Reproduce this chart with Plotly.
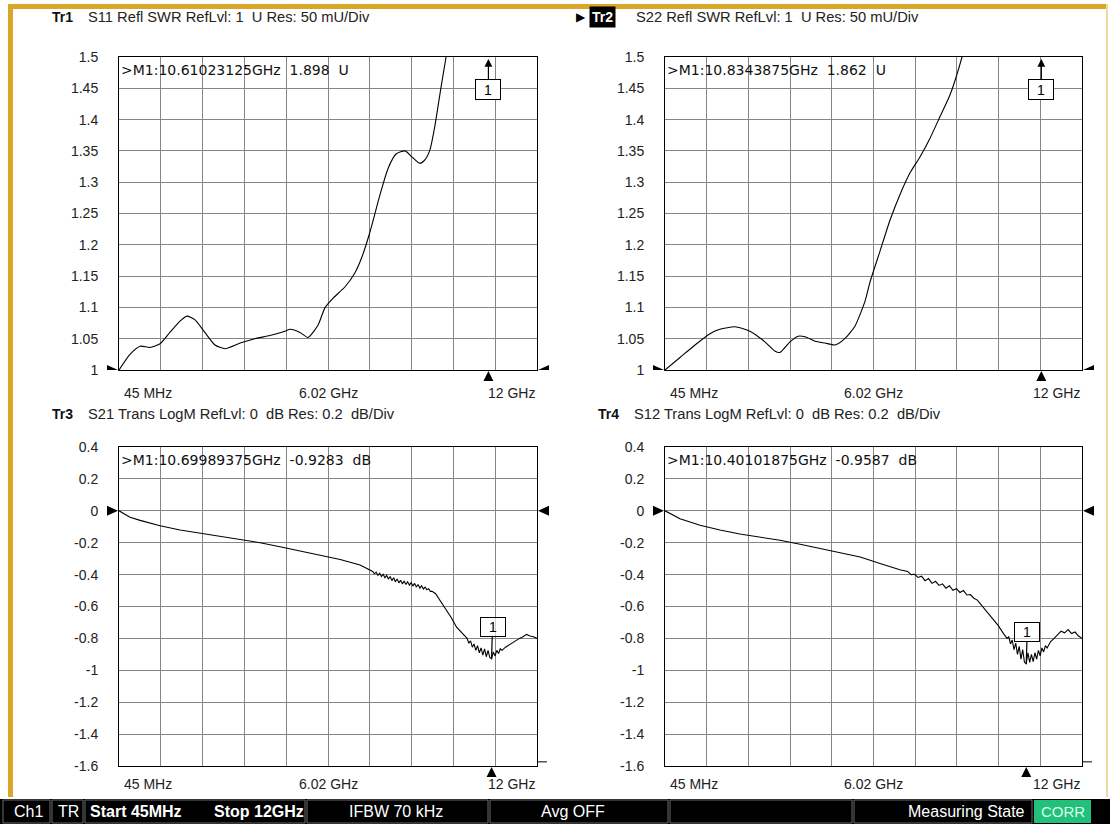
import plotly.graph_objects as go

W, H = 1110, 824
F_START, F_STOP, F_CENTER = 0.045, 12.0, 6.0225
FONT = "Liberation Sans, Arial, sans-serif"
MFONT = "DejaVu Sans, Verdana, sans-serif"

# ---------------- data ----------------
# Tr1  S11 SWR
s11_f = [0.045, 0.36, 0.65, 0.93, 1.22, 1.50, 1.79, 1.99, 2.22, 2.50, 2.79, 3.08,
         3.51, 3.93, 4.36, 4.79, 4.94, 5.22, 5.45, 5.74, 5.94, 6.17, 6.51, 6.79,
         6.99, 7.22, 7.51, 7.74, 7.97, 8.23, 8.43, 8.65, 8.80, 8.94, 9.08, 9.25,
         9.40, 9.60, 10.0, 10.61, 11.2, 12.0]
s11_v = [1.000, 1.025, 1.038, 1.036, 1.042, 1.060, 1.078, 1.086, 1.080, 1.060, 1.040, 1.034,
         1.043, 1.050, 1.055, 1.062, 1.065, 1.060, 1.052, 1.072, 1.100, 1.115, 1.133, 1.155,
         1.180, 1.220, 1.280, 1.322, 1.345, 1.350, 1.340, 1.330, 1.336, 1.352, 1.390, 1.450,
         1.500, 1.560, 1.680, 1.898, 2.050, 2.250]

# Tr2  S22 SWR
s22_f = [0.045, 0.475, 0.905, 1.335, 1.62, 2.05, 2.48, 2.91, 3.20, 3.34, 3.63, 3.86,
         4.06, 4.35, 4.63, 4.92, 5.20, 5.49, 5.78, 5.92, 6.21, 6.50, 6.78, 7.07,
         7.35, 7.64, 7.93, 8.22, 8.56, 9.0, 10.0, 10.83, 11.5, 12.0]
s22_v = [1.000, 1.020, 1.040, 1.058, 1.065, 1.069, 1.062, 1.045, 1.030, 1.028, 1.045, 1.054,
         1.053, 1.046, 1.043, 1.040, 1.050, 1.070, 1.110, 1.140, 1.190, 1.240, 1.280, 1.315,
         1.340, 1.370, 1.405, 1.440, 1.500, 1.600, 1.780, 1.862, 1.950, 2.000]

# Tr3  S21 dB
s21_f = [0.045, 0.36, 0.65, 1.22, 1.79, 2.36, 2.93, 3.51, 4.08, 4.65, 5.22, 5.79,
         6.37, 6.94, 7.22,
         7.30, 7.35, 7.40, 7.45, 7.50, 7.55, 7.60, 7.65, 7.70, 7.75, 7.80, 7.85,
         7.90, 7.95, 8.00, 8.05, 8.10, 8.15, 8.20, 8.25, 8.30, 8.35, 8.40, 8.45,
         8.50, 8.55, 8.60, 8.65, 8.70, 8.75, 8.80, 8.85, 8.90, 8.95, 9.00,
         9.10, 9.25, 9.40, 9.55, 9.70, 9.85, 9.95, 10.0,
         10.05, 10.1, 10.15, 10.2, 10.25, 10.3, 10.35, 10.4, 10.45, 10.5, 10.55, 10.6,
         10.65, 10.7, 10.75, 10.8, 10.85, 10.9, 10.95, 11.0,
         11.1, 11.2, 11.3, 11.4, 11.5, 11.6, 11.7, 11.8, 11.9, 12.0]
s21_v = [0.000, -0.040, -0.060, -0.094, -0.120, -0.140, -0.160, -0.180, -0.200, -0.225, -0.250, -0.275,
         -0.305, -0.340, -0.370,
         -0.380, -0.395, -0.385, -0.405, -0.392, -0.412, -0.398, -0.420, -0.405, -0.428, -0.412, -0.438,
         -0.420, -0.445, -0.428, -0.452, -0.435, -0.458, -0.440, -0.462, -0.445, -0.466, -0.450, -0.472,
         -0.455, -0.478, -0.462, -0.485, -0.470, -0.490, -0.478, -0.495, -0.488, -0.505, -0.505,
         -0.520, -0.570, -0.620, -0.670, -0.730, -0.765, -0.790, -0.800,
         -0.830, -0.815, -0.855, -0.835, -0.875, -0.845, -0.890, -0.860, -0.905, -0.865, -0.915, -0.875,
         -0.920, -0.9283, -0.885, -0.910, -0.875, -0.895, -0.865, -0.875,
         -0.855, -0.840, -0.830, -0.815, -0.800, -0.790, -0.775, -0.785, -0.790, -0.800]

# Tr4  S12 dB
s12_f = [0.045, 0.475, 1.05, 1.62, 2.19, 2.77, 3.34, 3.92, 4.49, 5.06, 5.64, 6.21,
         6.78,
         7.0, 7.1, 7.2, 7.3, 7.4, 7.5, 7.6, 7.7, 7.8, 7.9, 8.0, 8.1, 8.2, 8.3, 8.4,
         8.5, 8.6, 8.7, 8.8, 8.9, 9.0,
         9.15, 9.3, 9.45, 9.6, 9.75, 9.85,
         9.9, 9.95, 10.0, 10.05, 10.1, 10.15, 10.2, 10.25, 10.3, 10.35, 10.4, 10.45,
         10.5, 10.55, 10.6, 10.65, 10.7, 10.75, 10.8, 10.85, 10.9, 10.95, 11.0,
         11.1, 11.2, 11.3, 11.4, 11.5, 11.6, 11.7, 11.8, 11.9, 12.0]
s12_v = [0.000, -0.050, -0.090, -0.120, -0.145, -0.165, -0.185, -0.210, -0.235, -0.260, -0.290, -0.330,
         -0.370,
         -0.380, -0.400, -0.398, -0.418, -0.410, -0.438, -0.425, -0.455, -0.442, -0.468, -0.458, -0.485,
         -0.470, -0.498, -0.488, -0.512, -0.500, -0.528, -0.525, -0.548, -0.560,
         -0.600, -0.640, -0.680, -0.720, -0.770, -0.800,
         -0.790, -0.835, -0.810, -0.870, -0.830, -0.900, -0.850, -0.930, -0.870, -0.950, -0.9587, -0.890,
         -0.950, -0.900, -0.945, -0.890, -0.930, -0.875, -0.910, -0.860, -0.885, -0.845, -0.860,
         -0.820, -0.800, -0.775, -0.755, -0.765, -0.745, -0.770, -0.760, -0.785, -0.800]

swr_ticks = [1.0, 1.05, 1.1, 1.15, 1.2, 1.25, 1.3, 1.35, 1.4, 1.45, 1.5]
swr_labels = ["1", "1.05", "1.1", "1.15", "1.2", "1.25", "1.3", "1.35", "1.4", "1.45", "1.5"]
db_ticks = [-1.6, -1.4, -1.2, -1.0, -0.8, -0.6, -0.4, -0.2, 0.0, 0.2, 0.4]
db_labels = ["-1.6", "-1.4", "-1.2", "-1", "-0.8", "-0.6", "-0.4", "-0.2", "0", "0.2", "0.4"]
freq_labels = ["45 MHz", "6.02 GHz", "12 GHz"]

panels = [
    dict(tr="Tr1", desc="S11 Refl SWR RefLvl: 1\u00a0 U Res: 50 mU/Div", f=s11_f, v=s11_v,
         ticks=swr_ticks, labels=swr_labels, rng=[1.0, 1.5], ref=1.0, smooth=True,
         mk_f=10.61023125, mk_v=1.898, mk_txt=">M1:10.61023125GHz\u00a0 1.898\u00a0 U",
         box=(119, 537, 57, 370), head=(50, 86, 17), active=False),
    dict(tr="Tr2", desc="S22 Refl SWR RefLvl: 1\u00a0 U Res: 50 mU/Div", f=s22_f, v=s22_v,
         ticks=swr_ticks, labels=swr_labels, rng=[1.0, 1.5], ref=1.0, smooth=True,
         mk_f=10.8343875, mk_v=1.862, mk_txt=">M1:10.8343875GHz\u00a0 1.862\u00a0 U",
         box=(665, 1082, 57, 370), head=(589, 634, 17), active=True),
    dict(tr="Tr3", desc="S21 Trans LogM RefLvl: 0\u00a0 dB Res: 0.2\u00a0 dB/Div", f=s21_f, v=s21_v,
         ticks=db_ticks, labels=db_labels, rng=[-1.6, 0.4], ref=0.0, smooth=False,
         mk_f=10.69989375, mk_v=-0.9283, mk_txt=">M1:10.69989375GHz\u00a0 -0.9283\u00a0 dB",
         box=(119, 537, 447, 766), head=(50, 86, 414), active=False),
    dict(tr="Tr4", desc="S12 Trans LogM RefLvl: 0\u00a0 dB Res: 0.2\u00a0 dB/Div", f=s12_f, v=s12_v,
         ticks=db_ticks, labels=db_labels, rng=[-1.6, 0.4], ref=0.0, smooth=False,
         mk_f=10.40101875, mk_v=-0.9587, mk_txt=">M1:10.40101875GHz\u00a0 -0.9587\u00a0 dB",
         box=(665, 1082, 447, 766), head=(596, 632, 414), active=False),
]

fig = go.Figure()
annotations = []
shapes = []

def px(x):
    return x / W

def py(y):
    return 1 - y / H

GRID = "#858585"
for i, p in enumerate(panels, start=1):
    xa = "x" if i == 1 else f"x{i}"
    ya = "y" if i == 1 else f"y{i}"
    xkey = "xaxis" if i == 1 else f"xaxis{i}"
    ykey = "yaxis" if i == 1 else f"yaxis{i}"
    x0, x1, y0, y1 = p["box"]
    line = dict(color="black", width=1.1)
    if p["smooth"]:
        line.update(shape="spline", smoothing=0.6)
    fig.add_trace(go.Scatter(x=p["f"], y=p["v"], mode="lines", xaxis=xa, yaxis=ya,
                             line=line, hoverinfo="skip"))
    fig.layout[xkey] = dict(domain=[px(x0), px(x1)], anchor=ya, range=[F_START, F_STOP],
                            tick0=F_START, dtick=(F_STOP - F_START) / 10, showticklabels=False,
                            ticks="", showgrid=True, gridcolor=GRID, gridwidth=1,
                            zeroline=False, showline=True, linecolor="black", linewidth=1,
                            mirror=True, fixedrange=True, automargin=False)
    fig.layout[ykey] = dict(domain=[py(y1), py(y0)], anchor=xa, range=p["rng"],
                            tickmode="array", tickvals=p["ticks"], ticktext=p["labels"],
                            ticks="", ticklabelstandoff=17, showgrid=True, gridcolor=GRID,
                            gridwidth=1, zeroline=False, showline=True, linecolor="black",
                            linewidth=1, mirror=True, fixedrange=True, automargin=False,
                            tickfont=dict(family=FONT, size=14, color="#222"))
    xd = xa + " domain"
    yd = ya + " domain"
    # frequency labels
    for fv, lab, anc in zip([F_START, F_CENTER, F_STOP], freq_labels, ["left", "center", "right"]):
        annotations.append(dict(x=fv, xref=xa, y=0, yref=yd, text=lab, showarrow=False,
                                xanchor=anc, yanchor="top", yshift=-13 if i <= 2 else -8,
                                xshift=3 if anc == "left" else 0,
                                font=dict(family=FONT, size=14, color="#222")))
    # marker readout
    annotations.append(dict(x=0, xref=xd, y=1, yref=yd, text=p["mk_txt"], showarrow=False,
                            xanchor="left", yanchor="top", xshift=0, yshift=-3,
                            font=dict(family=MFONT, size=14, color="#111")))
    # marker box
    if p["mk_v"] > p["rng"][1]:
        annotations.append(dict(x=p["mk_f"], xref=xa, y=p["rng"][1] - 0.003, yref=ya, text="1",
                                showarrow=True, arrowhead=2, arrowsize=1.3, arrowwidth=1.2,
                                arrowcolor="black", ax=0, ay=31, bordercolor="black",
                                borderwidth=1, borderpad=1, width=22, height=17, bgcolor="white",
                                font=dict(family=FONT, size=14, color="black")))
    else:
        annotations.append(dict(x=p["mk_f"], xref=xa, y=p["mk_v"], yref=ya, text="1",
                                showarrow=True, arrowhead=0, arrowwidth=1.2, arrowcolor="black",
                                ax=1, ay=-32, bordercolor="black", borderwidth=1, borderpad=1,
                                width=22, height=16, bgcolor="rgba(255,255,255,0.6)",
                                font=dict(family=FONT, size=14, color="black")))
    # marker position triangle under axis
    shapes.append(dict(type="path", xref=xa, yref=yd, xsizemode="pixel", ysizemode="pixel",
                       xanchor=p["mk_f"], yanchor=0, path="M -5,-11 L 5,-11 L 0,-1 Z",
                       fillcolor="black", line=dict(width=0)))
    # reference level triangles
    shapes.append(dict(type="path", xref=xd, yref=ya, xsizemode="pixel", ysizemode="pixel",
                       xanchor=0, yanchor=p["ref"], path="M -12,-5 L -12,5 L -1,0 Z",
                       fillcolor="black", line=dict(width=0)))
    shapes.append(dict(type="path", xref=xd, yref=ya, xsizemode="pixel", ysizemode="pixel",
                       xanchor=1, yanchor=p["ref"], path="M 12,-5 L 12,5 L 1,0 Z",
                       fillcolor="black", line=dict(width=0)))
    if i >= 3:
        shapes.append(dict(type="line", xref="paper", yref=yd, x0=px(x1), x1=px(x1 + 10),
                           y0=0.013, y1=0.013, line=dict(color="black", width=1)))
    # headers
    hx_tr, hx_desc, hy = p["head"]
    if p["active"]:
        annotations.append(dict(x=px(hx_tr - 15), y=py(hy), xref="paper", yref="paper", text="\u25B6",
                                showarrow=False, xanchor="left", yanchor="middle",
                                font=dict(family="DejaVu Sans", size=12, color="black")))
        annotations.append(dict(x=px(hx_tr), y=py(hy), xref="paper", yref="paper",
                                text="<b>Tr2</b>", showarrow=False, xanchor="left", yanchor="middle",
                                bgcolor="black", borderpad=2,
                                font=dict(family=FONT, size=14, color="white")))
    else:
        annotations.append(dict(x=px(hx_tr), y=py(hy), xref="paper", yref="paper",
                                text=f"<b>{p['tr']}</b>", showarrow=False, xanchor="left",
                                yanchor="middle", font=dict(family=FONT, size=14, color="#111")))
    annotations.append(dict(x=px(hx_desc), y=py(hy), xref="paper", yref="paper", text=p["desc"],
                            showarrow=False, xanchor="left", yanchor="middle",
                            font=dict(family=FONT, size=14.7, color="#222")))

# ---------------- frame ----------------
GOLD = "#d9a62a"
def rect(x0, y0, x1, y1, fill, lc=None, lw=0, layer="above"):
    shapes.append(dict(type="rect", xref="paper", yref="paper", x0=px(x0), x1=px(x1),
                       y0=py(y1), y1=py(y0), fillcolor=fill, layer=layer,
                       line=dict(width=lw, color=lc or fill)))

rect(8, 4, 13, 797, GOLD, layer="below")
rect(8, 4, 1108, 9, GOLD, layer="below")
rect(1106, 4, 1108, 797, "#f1d9a0", layer="below")

# ---------------- status bar ----------------
rect(0, 799, 1110, 824, "black")
cells = [(2, 51), (51, 84), (84, 306), (306, 489), (489, 669), (669, 853), (853, 1033)]
for c0, c1 in cells:
    rect(c0 + 1, 800, c1 - 1, 823, "black", lc="#6a6a6a", lw=1)
rect(1034, 800, 1091, 823, "#22c07a")

status_items = [
    ("Ch1", 28, "center", False), ("TR", 68, "center", False),
    ("Start 45MHz", 88, "left", True), ("Stop 12GHz", 212, "left", True),
    ("IFBW 70 kHz", 396, "center", False), ("Avg OFF", 573, "center", False),
    ("Measuring State", 1027, "right", False),
]
for txt, xx, anc, bold in status_items:
    annotations.append(dict(x=px(xx), y=py(811.5), xref="paper", yref="paper",
                            text=f"<b>{txt}</b>" if bold else txt, showarrow=False,
                            xanchor=anc, yanchor="middle",
                            font=dict(family=FONT, size=16, color="white")))
annotations.append(dict(x=px(1063), y=py(811.5), xref="paper", yref="paper", text="CORR",
                        showarrow=False, xanchor="center", yanchor="middle",
                        font=dict(family=FONT, size=15, color="#d9ffe9")))

fig.update_layout(width=W, height=H, autosize=False, margin=dict(l=0, r=0, t=0, b=0, pad=0),
                  paper_bgcolor="white", plot_bgcolor="white", showlegend=False,
                  annotations=annotations, shapes=shapes)

fig.write_html("out.html", config={"displayModeBar": False},
               post_script="document.body.style.margin='0';document.body.style.overflow='hidden';")
